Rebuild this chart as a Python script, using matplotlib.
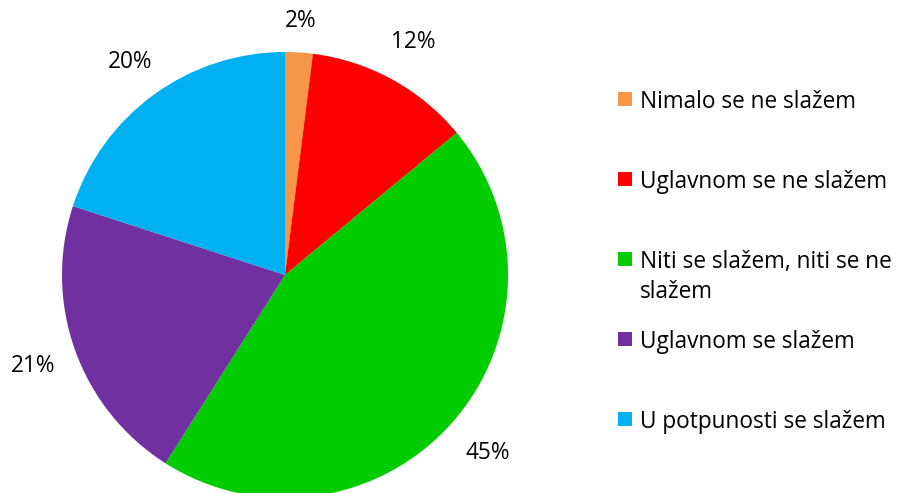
import numpy as np
import matplotlib.pyplot as plt
from matplotlib.patches import Rectangle

labels = ["Nimalo se ne slažem", "Uglavnom se ne slažem",
          "Niti se slažem, niti se ne\nslažem", "Uglavnom se slažem",
          "U potpunosti se slažem"]
values = [2, 12, 45, 21, 20]
colors = ["#F79646", "#FF0000", "#00CC00", "#7030A0", "#00B0F0"]

# distance of each percentage label from the centre (pie radius = 1)
label_dist = [1.14, 1.19, 1.21, 1.20, 1.18]

plt.rcParams['font.family'] = ['Open Sans', 'DejaVu Sans']
fs = 16.3

fig = plt.figure(figsize=(9.02, 4.93), dpi=100)

# pie axes: center ~ (285, 275) px, radius ~223 px
ax = fig.add_axes([62 / 902, -5 / 493, 446 / 902, 446 / 493])
wedges, texts, autotexts = ax.pie(values, colors=colors, startangle=90,
                                  counterclock=False, autopct='%1.0f%%',
                                  pctdistance=1.18, radius=1,
                                  textprops={'fontsize': fs, 'color': 'black'})
for w, t, d in zip(wedges, autotexts, label_dist):
    ang = np.deg2rad((w.theta1 + w.theta2) / 2)
    t.set_position((d * np.cos(ang), d * np.sin(ang)))

ax.set_xlim(-1, 1)
ax.set_ylim(-1, 1)
ax.set_aspect('equal')
ax.axis('off')

# legend on the right, one slot every 80 px
y0 = 1 - 99 / 493
step = 80 / 493
line_gap = 30 / 493
for i, (lab, col) in enumerate(zip(labels, colors)):
    y = y0 - i * step
    fig.patches.append(Rectangle((618 / 902, y - 7 / 493), 14 / 902, 14 / 493,
                                 facecolor=col, edgecolor='none',
                                 transform=fig.transFigure))
    for k, line in enumerate(lab.split("\n")):
        fig.text(640 / 902, y - k * line_gap, line, fontsize=fs,
                 va='center_baseline', ha='left')

fig.savefig("out.png", dpi=100)
